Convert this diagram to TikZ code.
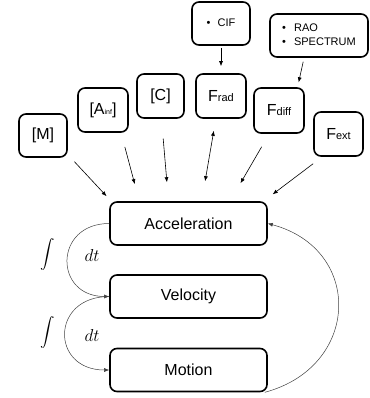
\documentclass[tikz,border=0pt]{standalone}
\usepackage{exscale}
\usepackage{fontspec}
\setmainfont{Liberation Sans}
\usetikzlibrary{calc,arrows.meta}

\tikzset{
  kasten/.style={draw, line width=1.6pt, rounded corners=7pt, inner sep=0pt,
                 font=\fontsize{16}{18}\selectfont},
  zustand/.style={kasten, minimum width=157pt, minimum height=43pt},
  liste/.style={kasten, font=\fontsize{11}{14}\selectfont},
  integral/.style={font=\fontsize{15}{18}\selectfont},
  differential/.style={font=\fontsize{16}{18}\selectfont},
  pfeil/.style={-{Latex[length=5pt,width=4pt]}, line width=0.6pt},
  bogen/.style={-{Latex[length=5pt,width=4pt]}, line width=0.5pt, black!75}
}
\newcommand{\klein}[1]{{\fontsize{11}{11}\selectfont #1}}

\begin{document}
\begin{tikzpicture}[x=1pt,y=1pt]
  \useasboundingbox (0,0) rectangle (369,-398);

  % Kästen oben
  \node[kasten, minimum width=48pt, minimum height=43pt] (m) at (43,-135.5) {[M]};
  \node[kasten, minimum width=50pt, minimum height=44pt] (ainf) at (103,-110) {[A{\fontsize{7}{7}\selectfont inf}]};
  \node[kasten, minimum width=47pt, minimum height=44pt] (c) at (160.5,-96) {[C]};
  \node[kasten, minimum width=50pt, minimum height=44pt] (frad) at (221,-96) {F\klein{rad}};
  \node[kasten, minimum width=50pt, minimum height=45pt] (fdiff) at (279,-110.5) {F\klein{diff}};
  \node[kasten, minimum width=49pt, minimum height=44pt] (fext) at (338.5,-134) {F\klein{ext}};

  % Eingaben
  \node[liste, minimum width=58pt, minimum height=43pt] (cif) at (221,-23.5)
    {\begin{tabular}{@{}l@{\hspace{7pt}}l@{}}\textbullet & CIF\end{tabular}};
  \node[liste, minimum width=98pt, minimum height=43pt] (rao) at (319,-35.5)
    {\begin{tabular}{@{}l@{\hspace{8pt}}l@{}}\textbullet & RAO\\ \textbullet & SPECTRUM\end{tabular}};

  % Bewegungsgrößen
  \node[zustand] (acc) at (188.5,-223.5) {Acceleration};
  \node[zustand] (vel) at (188.5,-296.5) {Velocity};
  \node[zustand] (mot) at (188.5,-370) {Motion};

  % Integrale
  \node[integral] (int1) at (48,-254) {$\displaystyle\int$};
  \node[differential] (dt1) at (92,-255) {$dt$};
  \node[integral] (int2) at (48,-332) {$\displaystyle\int$};
  \node[differential] (dt2) at (92,-335) {$dt$};

  % Pfeile zur Beschleunigung
  \draw[pfeil, shorten <=5.3pt, shorten >=6.8pt] ([xshift=3pt]m.south east) -- ([xshift=2pt]acc.north west);
  \draw[pfeil, shorten <=14.6pt, shorten >=17.7pt] ($(ainf.south)!0.7!(ainf.south east)$) -- ($(acc.north west)!0.19!(acc.north east)$);
  \draw[pfeil, shorten <=20pt, shorten >=19pt] ([xshift=1pt]c.south) -- ($(acc.north west)!0.374!(acc.north east)$);
  \draw[pfeil, {Latex[length=5pt,width=4pt]}-{Latex[length=5pt,width=4pt]}, shorten <=12.2pt, shorten >=20.3pt]
    ($(frad.south west)!0.4!(frad.south east)$) -- ($(acc.north west)!0.583!(acc.north east)$);
  \draw[pfeil, shorten <=15pt, shorten >=20.8pt] ($(fdiff.south west)!0.31!(fdiff.south east)$) -- ($(acc.north west)!0.762!(acc.north east)$);
  \draw[pfeil, shorten <=11.5pt, shorten >=11.5pt] ($(fext.south west)!0.18!(fext.south east)$) -- ($(acc.north west)!0.973!(acc.north east)$);

  % Pfeile von den Eingaben
  \draw[pfeil, shorten <=2pt, shorten >=7pt] (cif.south) -- (frad.north);
  \draw[pfeil, shorten <=4pt, shorten >=5pt] ($(rao.south west)!0.35!(rao.south east)$) -- ($(fdiff.north west)!0.86!(fdiff.north east)$);

  % Integration und Rückführung
  \draw[bogen] (acc.west) to[out=180,in=180,looseness=1.95] (vel.west);
  \draw[bogen] (vel.west) to[out=180,in=180,looseness=2.05] (mot.west);
  \draw[bogen] ([xshift=-3pt]mot.south east) to[out=15,in=-15,looseness=1.5] (acc.east);

\end{tikzpicture}
\end{document}
